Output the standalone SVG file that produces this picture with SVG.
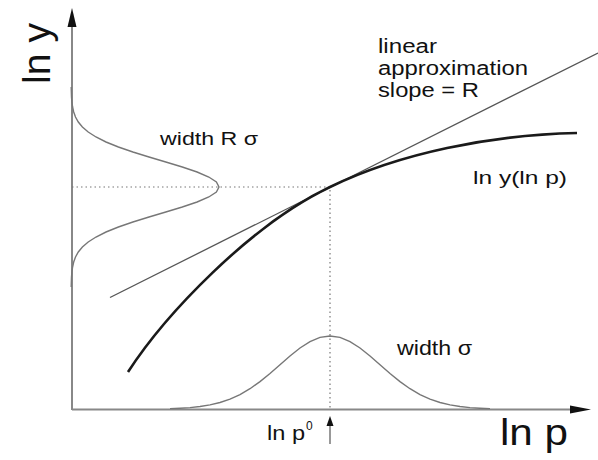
<svg xmlns="http://www.w3.org/2000/svg" width="598" height="460" viewBox="0 0 598 460">
<style>
.t{font-family:"Liberation Sans",Arial,sans-serif;fill:#111}
.axis{stroke:#888;stroke-width:2;fill:none}
.gauss{stroke:#777;stroke-width:1.4;fill:none}
.dot{stroke:#777;stroke-width:1.2;stroke-dasharray:1.5 3;fill:none}
.head{fill:#111}
</style>
<rect width="598" height="460" fill="#fff"/>
<g id="connectors">
<path class="axis" d="M72,410 V24"/>
<path class="axis" d="M72,409.5 H574" stroke="#666" stroke-width="1.6"/>
<path class="head" d="M72,8 L67.5,27 L76.5,27 Z"/>
<path class="head" d="M591,409.5 L570,405.5 L570,413.5 Z"/>
<path class="dot" d="M72,187 H330 V409"/>
<path id="linear" d="M110,297.5 L598,53" stroke="#555" stroke-width="1.3" fill="none"/>
<path id="curve" d="M128,372 C165,315 250,225 330,187 C400,153 490,135 577,133" stroke="#1a1a1a" stroke-width="2.6" fill="none"/>
<path class="gauss" d="M71.2,87 L71.5,97 L71.9,102 L72.6,107 L73.7,112 L75.5,117 L78.3,122 L82.4,127 L88.2,132 L96,137 L106,142 L118.4,147 L132.9,152 L149,157 L165.8,162 L182.3,167 L197.1,172 L208.8,177 L216.4,182 L219,187 L216.4,192 L208.8,197 L197.1,202 L182.3,207 L165.8,212 L149,217 L132.9,222 L118.4,227 L106,232 L96,237 L88.2,242 L82.4,247 L78.3,252 L75.5,257 L73.7,262 L72.6,267 L71.9,272 L71.5,277 L71.2,287"/>
<path class="gauss" d="M170,408.6 L180,408.2 L190,407.6 L200,406.5 L210,404.9 L220,402.5 L230,399.1 L240,394.6 L250,388.7 L260,381.6 L270,373.5 L280,364.7 L290,356 L300,348 L310,341.6 L320,337.4 L330,336 L340,337.4 L350,341.6 L360,348 L370,356 L380,364.7 L390,373.5 L400,381.6 L410,388.7 L420,394.6 L430,399.1 L440,402.5 L450,404.9 L460,406.5 L470,407.6 L480,408.2 L490,408.6"/>
<path d="M330,425 V444" stroke="#999" stroke-width="2"/>
<path class="head" d="M330,416 L326.5,426 L333.5,426 Z"/>
</g>
<g id="label-lny"><text class="t" font-size="38" textLength="61" lengthAdjust="spacingAndGlyphs" transform="translate(50,84) rotate(-90)">ln y</text></g>
<g id="label-lnp"><text class="t" x="500" y="445" font-size="37" textLength="68" lengthAdjust="spacingAndGlyphs">ln p</text></g>
<g id="label-linear">
<text class="t" x="378" y="53" font-size="20" textLength="59" lengthAdjust="spacingAndGlyphs">linear</text>
<text class="t" x="378" y="75" font-size="20" textLength="150" lengthAdjust="spacingAndGlyphs">approximation</text>
<text class="t" x="378" y="97" font-size="20" textLength="101" lengthAdjust="spacingAndGlyphs">slope = R</text>
</g>
<g id="label-widthR"><text class="t" x="160" y="145" font-size="19" textLength="98" lengthAdjust="spacingAndGlyphs">width R σ</text></g>
<g id="label-lnyp"><text class="t" x="473" y="184" font-size="19" textLength="94" lengthAdjust="spacingAndGlyphs">ln y(ln p)</text></g>
<g id="label-width"><text class="t" x="397" y="355" font-size="20" textLength="75" lengthAdjust="spacingAndGlyphs">width σ</text></g>
<g id="label-lnp0"><text class="t" x="267" y="440" font-size="21" textLength="38" lengthAdjust="spacingAndGlyphs">ln p</text><text class="t" x="306" y="430" font-size="12">0</text></g>
</svg>
